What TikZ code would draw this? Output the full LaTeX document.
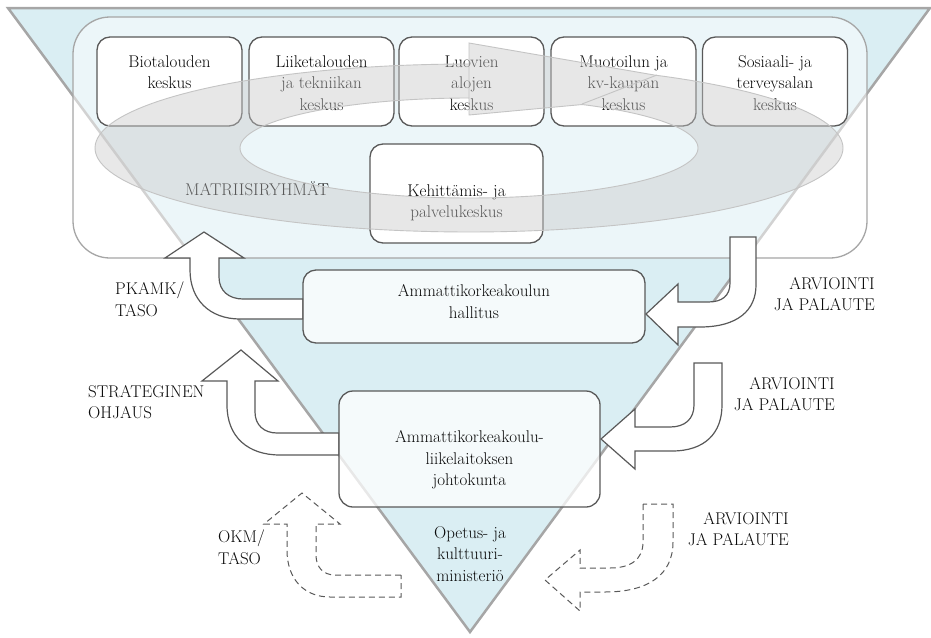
\documentclass[tikz,border=0pt]{standalone}
\usetikzlibrary{calc}
\definecolor{triblue}{RGB}{218,238,243}
\definecolor{edgegray}{RGB}{166,166,166}
\definecolor{boxline}{RGB}{89,89,89}
\definecolor{bandgray}{RGB}{200,200,200}
\definecolor{bandline}{RGB}{196,196,196}
\definecolor{txt}{RGB}{10,10,10}
\begin{document}
\begin{tikzpicture}[x=1pt,y=-1pt,
  font=\fontsize{17}{21.5}\selectfont, text=txt,
  topbox/.style={draw=boxline, line width=1.3pt, fill=white, rounded corners=13pt,
    minimum width=145pt, minimum height=89pt, inner sep=0pt},
  lowbox/.style={draw=boxline, line width=1.3pt, fill=white, fill opacity=0.75,
    rounded corners=13pt, inner sep=0pt},
  boxtext/.style={align=center, inner sep=0pt, anchor=north},
  lbl/.style={inner sep=0pt},
  bigarrow/.style={draw=boxline, line width=1.2pt, fill=white, line join=miter},
  dasharrow/.style={draw=boxline, line width=1pt, fill=white, dash pattern=on 6pt off 4pt, line join=miter}]
\useasboundingbox (0,0) rectangle (931,637);

% funnel triangle
\fill[triblue] (8,8) -- (930,8) -- (470,632) -- cycle;
\draw[edgegray, line width=2.5pt] (8,8) -- (930,8) -- (470,632) -- cycle;

% matrix group frame
\draw[edgegray, line width=1.3pt, fill=white, fill opacity=0.5, rounded corners=37pt]
  (73,17) rectangle (867,258);

% top row boxes
\node[topbox] (b1) at (169.5,81.5) {};
\node[topbox] (b2) at (321.5,81.5) {};
\node[topbox] (b3) at (471.5,81.5) {};
\node[topbox] (b4) at (623.5,81.5) {};
\node[topbox] (b5) at (775,81.5) {};
\node[boxtext] (t1) at ($(b1.north)+(0,19)$) {Biotalouden\\keskus};
\node[boxtext] (t2) at ($(b2.north)+(0,19)$) {Liiketalouden\\ja tekniikan\\keskus};
\node[boxtext] (t3) at ($(b3.north)+(0,19)$) {Luovien\\alojen\\keskus};
\node[boxtext] (t4) at ($(b4.north)+(0,19)$) {Muotoilun ja\\kv-kaupan\\keskus};
\node[boxtext] (t5) at ($(b5.north)+(0,19)$) {Sosiaali- ja\\terveysalan\\keskus};

% development box
\node[topbox, minimum width=173pt, minimum height=99pt] (kp) at (456.5,193.5) {};
\node[boxtext] (kpt) at ($(kp.north)+(0,41)$) {Kehittämis- ja\\palvelukeskus};

\node[lbl, anchor=north] (mat) at (257,182) {MATRIISIRYHMÄT};

% spiral arrow band
\path[fill=bandgray, fill opacity=0.42, draw=bandline, line width=0.9pt, even odd rule]
  plot[domain=-60.2:270, samples=160] ({469+374*cos(\x)},{148+84*sin(\x)}) -- (469,43) -- cycle
  plot[domain=-60.4:270, samples=160] ({469+229*cos(\x)},{148+50*sin(\x)}) -- (469,115) -- cycle;
\draw[bandline, line width=0.9pt] (582,104) -- (657,75) (469,64) -- (469,98);

% block arrows
\draw[bigarrow] (303,299) -- (243,299) .. controls (229,299) and (219,291) .. (219,277)
  -- (219,258) -- (244,258) -- (204,232) -- (165,258) -- (190,258) -- (190,270)
  .. controls (190,300) and (210,319) .. (240,319) -- (303,319) -- cycle;
\draw[bigarrow] (339,433) -- (277,433) .. controls (264,433) and (255,425) .. (255,412)
  -- (255,381) -- (278,381) -- (241,350) -- (202,381) -- (227,381) -- (227,405)
  .. controls (227,437) and (248,455) .. (280,455) -- (339,455) -- cycle;
\draw[bigarrow] (730,237) -- (730,283) .. controls (730,296) and (722,302) .. (708,302)
  -- (678,302) -- (678,284) -- (646,314) -- (678,345) -- (678,327) -- (700,327)
  .. controls (738,327) and (756,310) .. (756,285) -- (756,237) -- cycle;
\draw[bigarrow] (694,363) -- (694,405) .. controls (694,419) and (685,427) .. (670,427)
  -- (635,427) -- (635,409) -- (601,439) -- (635,469) -- (635,451) -- (672,451)
  .. controls (705,451) and (722,433) .. (722,405) -- (722,363) -- cycle;
\draw[dasharrow] (401,575) -- (335,575) .. controls (323,575) and (316,567) .. (316,555)
  -- (316,524) -- (340,524) -- (302,493) -- (264,524) -- (287,524) -- (287,550)
  .. controls (287,580) and (305,597) .. (330,597) -- (401,597) -- cycle;
\draw[dasharrow] (643,504) -- (643,542) .. controls (643,560) and (630,568) .. (610,568)
  -- (580,568) -- (580,550) -- (545,580) -- (580,611) -- (580,592) -- (605,592)
  .. controls (648,592) and (673,575) .. (673,542) -- (673,504) -- cycle;

% lower boxes
\node[lowbox, minimum width=342pt, minimum height=73pt] (hall) at (474,306.5) {};
\node[boxtext] (hallt) at ($(hall.north)+(0,15)$) {Ammattikorkeakoulun\\hallitus};
\node[lowbox, rounded corners=14pt, minimum width=261pt, minimum height=116pt] (joht) at (469.5,449) {};
\node[boxtext] (jotht) at ($(joht.north)+(0,40)$) {Ammattikorkeakoulu-\\liikelaitoksen\\johtokunta};
\node[boxtext] (okm) at (470,526) {Opetus- ja\\kulttuuri-\\ministeriö};

% side labels
\node[lbl, align=left, anchor=north west] (l1) at (115,282) {PKAMK/\\TASO};
\node[lbl, align=left, anchor=north west] (l2) at (88,385) {STRATEGINEN\\OHJAUS};
\node[lbl, align=left, anchor=north west] (l3) at (218,530) {OKM/\\TASO};
\node[lbl, align=right, anchor=north east] (r1) at (875,277) {ARVIOINTI\\JA PALAUTE};
\node[lbl, align=right, anchor=north east] (r2) at (835,377) {ARVIOINTI\\JA PALAUTE};
\node[lbl, align=right, anchor=north east] (r3) at (789,512) {ARVIOINTI\\JA PALAUTE};
\end{tikzpicture}
\end{document}
